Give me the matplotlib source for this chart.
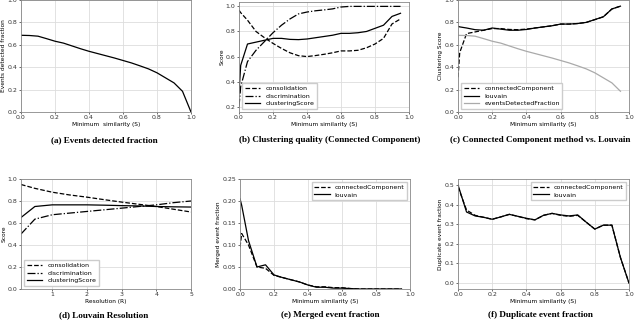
import numpy as np
import matplotlib.pyplot as plt

plt.rcParams['font.family'] = 'DejaVu Sans'
plt.rcParams['font.size'] = 4.5
plt.rcParams['axes.labelsize'] = 4.2

# (a) events detected fraction
sim_a = [0.0, 0.05, 0.1, 0.15, 0.2, 0.25, 0.3, 0.35, 0.4, 0.45, 0.5, 0.55, 0.6,
         0.65, 0.7, 0.75, 0.8, 0.85, 0.9, 0.95, 1.0]
detected = [0.685, 0.683, 0.677, 0.655, 0.632, 0.615, 0.59, 0.565, 0.542, 0.522, 0.502,
            0.482, 0.46, 0.438, 0.412, 0.385, 0.35, 0.305, 0.26, 0.185, 0.0]

# (b) clustering quality, connected component
sim_b = [0.0, 0.01, 0.05, 0.1, 0.15, 0.2, 0.25, 0.3, 0.35, 0.4, 0.45, 0.5, 0.55, 0.6,
         0.65, 0.7, 0.75, 0.8, 0.85, 0.9, 0.95]
consolidation = [0.97, 0.95, 0.89, 0.8, 0.75, 0.705, 0.665, 0.63, 0.607, 0.6, 0.608,
                 0.618, 0.63, 0.645, 0.645, 0.65, 0.67, 0.7, 0.745, 0.86, 0.9]
discrimination = [0.2, 0.36, 0.56, 0.65, 0.72, 0.79, 0.85, 0.9, 0.94, 0.955, 0.965,
                  0.972, 0.98, 0.995, 1.0, 1.0, 1.0, 1.0, 1.0, 1.0, 1.0]
cc_score = [0.31, 0.53, 0.7, 0.715, 0.73, 0.745, 0.745, 0.737, 0.735, 0.74, 0.75,
            0.76, 0.77, 0.785, 0.785, 0.79, 0.8, 0.825, 0.85, 0.92, 0.945]

# (c) connected component vs louvain
louvain_score = [0.765, 0.76, 0.75, 0.735, 0.73, 0.75, 0.74, 0.73, 0.73, 0.737, 0.75,
                 0.76, 0.77, 0.785, 0.785, 0.79, 0.8, 0.825, 0.85, 0.92, 0.945]
detected_c = [0.685, 0.684, 0.683, 0.677, 0.655, 0.632, 0.615, 0.59, 0.565, 0.542, 0.522,
              0.502, 0.482, 0.46, 0.438, 0.412, 0.385, 0.35, 0.305, 0.26, 0.185]

# (d) louvain resolution
resolution = [0.1, 0.5, 1.0, 1.5, 2.0, 2.5, 3.0, 3.5, 4.0, 4.5, 5.0]
res_consolidation = [0.95, 0.915, 0.88, 0.855, 0.835, 0.812, 0.79, 0.77, 0.75, 0.725, 0.7]
res_discrimination = [0.5, 0.635, 0.675, 0.69, 0.705, 0.72, 0.735, 0.75, 0.765, 0.785, 0.8]
res_score = [0.65, 0.75, 0.765, 0.765, 0.765, 0.762, 0.758, 0.755, 0.75, 0.747, 0.745]

# (e) merged event fraction
sim_e = [0.0, 0.01, 0.05, 0.1, 0.15, 0.2, 0.25, 0.3, 0.35, 0.4, 0.45, 0.5, 0.55, 0.6,
         0.65, 0.7, 0.75, 0.8, 0.85, 0.9, 0.95]
merged_cc = [0.095, 0.126, 0.1, 0.05, 0.047, 0.031, 0.026, 0.021, 0.016, 0.009, 0.005,
             0.005, 0.003, 0.003, 0.001, 0.0, 0.0, 0.0, 0.0, 0.0, 0.0]
merged_louvain = [0.205, 0.19, 0.11, 0.05, 0.055, 0.032, 0.026, 0.021, 0.016, 0.009,
                  0.004, 0.004, 0.002, 0.002, 0.001, 0.0, 0.0, 0.0, 0.0, 0.0, 0.0]

# (f) duplicate event fraction
sim_f = [0.0, 0.05, 0.1, 0.15, 0.2, 0.25, 0.3, 0.35, 0.4, 0.45, 0.5, 0.55, 0.6, 0.65,
         0.7, 0.75, 0.8, 0.85, 0.9, 0.95, 1.0]
dup_cc = [0.49, 0.372, 0.345, 0.335, 0.325, 0.337, 0.35, 0.34, 0.328, 0.322, 0.345,
          0.355, 0.345, 0.34, 0.345, 0.31, 0.275, 0.295, 0.295, 0.13, 0.0]
dup_louvain = [0.5, 0.362, 0.342, 0.335, 0.325, 0.337, 0.35, 0.34, 0.33, 0.322, 0.345,
               0.355, 0.347, 0.342, 0.347, 0.31, 0.275, 0.295, 0.295, 0.13, 0.0]

captions = ["(a) Events detected fraction",
            "(b) Clustering quality (Connected Component)",
            "(c) Connected Component method vs. Louvain",
            "(d) Louvain Resolution",
            "(e) Merged event fraction",
            "(f) Duplicate event fraction"]

W, H = 640, 323
fig = plt.figure(figsize=(6.4, 3.23), dpi=100)


def make_axes(left, right, top, bottom):
    ax = fig.add_axes([left / W, 1 - bottom / H, (right - left) / W, (bottom - top) / H])
    ax.grid(True, color='#dddddd', linewidth=0.6)
    ax.set_axisbelow(True)
    for s in ax.spines.values():
        s.set_color('#888888')
        s.set_linewidth(0.6)
    ax.tick_params(length=1.5, width=0.5, pad=1, colors='#333333')
    return ax


def small_legend(ax, loc):
    ax.legend(loc=loc, fontsize=4.5, handlelength=2.5, borderpad=0.4,
              labelspacing=0.35, framealpha=1, edgecolor='#cccccc', fancybox=False)


lw = 0.9

ax = make_axes(21, 191, 0, 112)
ax.plot(sim_a, detected, color='k', lw=lw)
ax.set_xlim(0, 1)
ax.set_ylim(0, 1)
ax.set_xlabel("Minimum  similarity (S)", labelpad=1)
ax.set_ylabel("Events detected fraction", labelpad=1)

ax = make_axes(239, 409, 2, 112)
ax.plot(sim_b, consolidation, 'k--', lw=lw, label='consolidation')
ax.plot(sim_b, discrimination, 'k-.', lw=lw, label='discrimination')
ax.plot(sim_b, cc_score, 'k-', lw=lw, label='clusteringScore')
ax.set_xlim(0, 1)
ax.set_ylim(0.158, 1.035)
ax.set_xlabel("Minimum similarity (S)", labelpad=1)
ax.set_ylabel("Score", labelpad=1)
small_legend(ax, 'lower left')

ax = make_axes(458, 629, 0, 112)
ax.plot(sim_b, cc_score, 'k--', lw=lw, label='connectedComponent')
ax.plot(sim_b, louvain_score, 'k-', lw=lw, label='louvain')
ax.plot(sim_b, detected_c, '-', color='#aaaaaa', lw=lw, label='eventsDetectedFraction')
ax.set_xlim(0, 1)
ax.set_ylim(0, 1)
ax.set_xlabel("Minimum similarity (S)", labelpad=1)
ax.set_ylabel("Clustering Score", labelpad=1)
small_legend(ax, 'lower left')

ax = make_axes(21, 191, 179, 289)
ax.plot(resolution, res_consolidation, 'k--', lw=lw, label='consolidation')
ax.plot(resolution, res_discrimination, 'k-.', lw=lw, label='discrimination')
ax.plot(resolution, res_score, 'k-', lw=lw, label='clusteringScore')
ax.set_xlim(0.1, 5)
ax.set_ylim(0, 1)
ax.set_xticks([1, 2, 3, 4, 5])
ax.set_xlabel("Resolution (R)", labelpad=1)
ax.set_ylabel("Score", labelpad=1)
small_legend(ax, 'lower left')

ax = make_axes(240, 410, 179, 289)
ax.plot(sim_e, merged_cc, 'k--', lw=lw, label='connectedComponent')
ax.plot(sim_e, merged_louvain, 'k-', lw=lw, label='louvain')
ax.set_xlim(0, 1)
ax.set_ylim(0, 0.25)
ax.set_xlabel("Minimum similarity (S)", labelpad=1)
ax.set_ylabel("Merged event fraction", labelpad=1)
small_legend(ax, 'upper right')

ax = make_axes(458, 629, 179, 289)
ax.plot(sim_f, dup_cc, 'k--', lw=lw, label='connectedComponent')
ax.plot(sim_f, dup_louvain, 'k-', lw=lw, label='louvain')
ax.set_xlim(0, 1)
ax.set_ylim(-0.03, 0.53)
ax.set_xlabel("Minimum similarity (S)", labelpad=1)
ax.set_ylabel("Duplicate event fraction", labelpad=1)
small_legend(ax, 'upper right')

cap_x = [104, 330, 540]
for i, cap in enumerate(captions):
    y = 140 if i < 3 else 315
    fig.text(cap_x[i % 3] / W, 1 - y / H, cap, ha='center', va='center',
             family='Liberation Serif', weight='bold', fontsize=6.6)

fig.savefig('out.png', dpi=100)
